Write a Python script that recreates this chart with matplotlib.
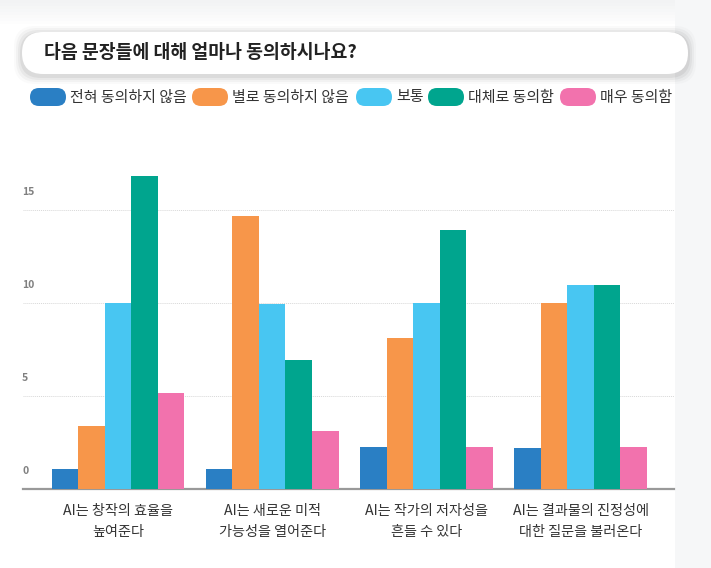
import matplotlib.pyplot as plt
from matplotlib.patches import FancyBboxPatch, Rectangle
from matplotlib.transforms import ScaledTranslation
import numpy as np

plt.rcParams['font.family'] = ['Noto Sans CJK KR', 'DejaVu Sans']

title = "다음 문장들에 대해 얼마나 동의하시나요?"
statements = ["AI는 창작의 효율을\n높여준다",
              "AI는 새로운 미적\n가능성을 열어준다",
              "AI는 작가의 저자성을\n흔들 수 있다",
              "AI는 결과물의 진정성에\n대한 질문을 불러온다"]
answers = ["전혀 동의하지 않음", "별로 동의하지 않음", "보통", "대체로 동의함", "매우 동의함"]
colors = ["#2a7fc4", "#f7964a", "#48c6f2", "#00a58e", "#f272ad"]

# one list per answer, one value per statement
v_none = [1.06, 1.06, 2.26, 2.2]
v_little = [3.38, 14.68, 8.12, 10.0]
v_normal = [10.0, 9.95, 10.0, 10.97]
v_mostly = [16.84, 6.93, 13.93, 10.97]
v_very = [5.14, 3.11, 2.26, 2.26]
series = [v_none, v_little, v_normal, v_mostly, v_very]
yticks = [0, 5, 10, 15]

W, H = 711, 568
fig = plt.figure(figsize=(W / 100, H / 100), dpi=100)
fig.patch.set_facecolor('white')

# background / decoration layer in pixel coordinates
bg = fig.add_axes([0, 0, 1, 1], zorder=-1)
bg.set_xlim(0, W)
bg.set_ylim(H, 0)
bg.axis('off')
bg.add_patch(Rectangle((675, 0), 36, H, color='#f6f7f8', lw=0))
for i in range(8):
    bg.add_patch(Rectangle((0, i * 3), 675, 3, color='#f2f3f4', alpha=1 - i / 8, lw=0))
# title box shadow
for i, a in enumerate([0.05, 0.04, 0.03, 0.02]):
    g = 2 + i * 2
    bg.add_patch(FancyBboxPatch((22 + 21 - g, 32 + 21 - g + 2), 666 - 42 + 2 * g, 0 + 2 * g,
                                boxstyle="round,pad=21", color='black', alpha=a, lw=0))
bg.add_patch(FancyBboxPatch((22 + 21, 32 + 21), 666 - 42, 0,
                            boxstyle="round,pad=21", fc='white', ec='none'))
bg.text(44, 53, title, fontsize=13.2, fontweight='bold', color='#222222', va='center')

# legend drawn as pills
lx = [30, 192, 356, 428, 560]
for x0, lab, c in zip(lx, answers, colors):
    bg.add_patch(FancyBboxPatch((x0 + 9, 97), 18, 0, boxstyle="round,pad=9", fc=c, ec='none'))
    bg.text(x0 + 40, 97.5, lab, fontsize=10.8, color='#333333', va='center')

ax = fig.add_axes([23 / W, 1 - 488.7 / H, (674 - 23) / W, (488.7 - 150) / H])
x = np.arange(len(statements))
bw = 0.172
for k, (vals, c) in enumerate(zip(series, colors)):
    ax.bar(x + (k - 2) * bw, vals, width=bw, color=c, zorder=3)

ax.set_xlim(-0.616, 3.605)
ax.set_ylim(0, 18.24)
ax.set_yticks(yticks)
ax.set_yticklabels([str(t) for t in yticks])
ax.tick_params(axis='y', length=0, pad=0.7, labelsize=7.5, labelcolor='#808080')
off = ScaledTranslation(0, 0.19, fig.dpi_scale_trans)
for lab in ax.get_yticklabels():
    lab.set_horizontalalignment('left')
    lab.set_fontweight('semibold')
    lab.set_transform(lab.get_transform() + off)
ax.set_xticks(x)
ax.set_xticklabels(statements, fontsize=10.2, color='#333333', linespacing=1.6)
ax.tick_params(axis='x', length=0, pad=11)
ax.grid(axis='y', color='#d8d8d8', linestyle=(0, (1, 1)), linewidth=0.7, zorder=0)
for s in ['top', 'right', 'left']:
    ax.spines[s].set_visible(False)
ax.spines['bottom'].set_color('#999999')
ax.spines['bottom'].set_linewidth(1.6)
ax.set_facecolor('none')

fig.savefig('out.png', dpi=100)
